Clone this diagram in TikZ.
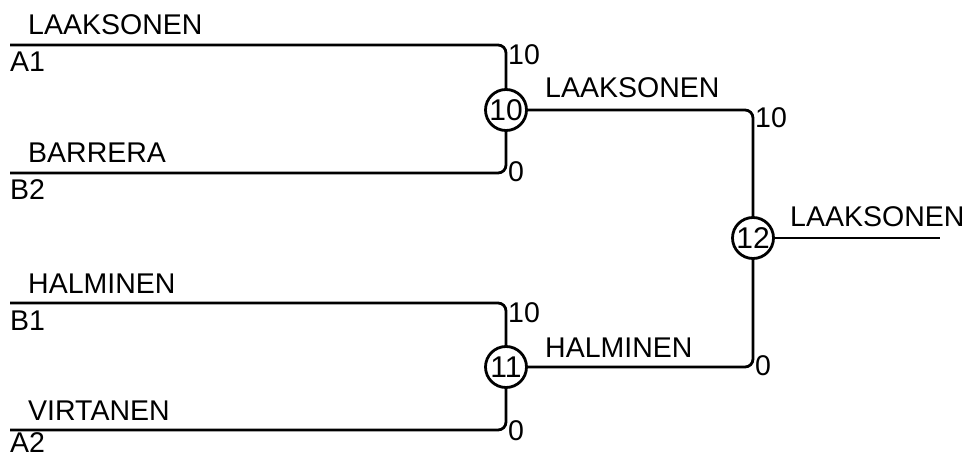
\documentclass[tikz,border=0pt]{standalone}
\usepackage{fontspec}
\setmainfont{Liberation Sans}
\begin{document}
\begin{tikzpicture}[x=1pt,y=-1pt,
  wire/.style={line width=2.8pt,rounded corners=8pt},
  match/.style={circle,draw,line width=2.8pt,minimum size=41pt,inner sep=0pt,font=\fontsize{30}{30}\selectfont},
  lbl/.style={anchor=base west,inner sep=0pt,font=\fontsize{28.5}{30}\selectfont}]
\useasboundingbox (0,0) rectangle (963,457);
\node[match] (c10) at (506,110) {10};
\node[match] (c11) at (506,367) {11};
\node[match] (c12) at (753,238) {12};
\coordinate (a1) at (10,45);
\coordinate (b2) at (10,173);
\coordinate (b1) at (10,303);
\coordinate (a2) at (10,430);
\coordinate (fin) at (940,238);
\draw[wire] (a1) -| (c10.north);
\draw[wire] (b2) -| (c10.south);
\draw[wire] (b1) -| (c11.north);
\draw[wire] (a2) -| (c11.south);
\draw[wire] (c10.east) -| (c12.north);
\draw[wire] (c11.east) -| (c12.south);
\draw[wire] (c12.east) -- (fin);
% player names and seeds
\node[lbl] (n1) at (28,35) {LAAKSONEN};
\node[lbl] (s1) at (10,72) {A1};
\node[lbl] (n2) at (28,163) {BARRERA};
\node[lbl] (s2) at (10,200) {B2};
\node[lbl] (n3) at (28,293) {HALMINEN};
\node[lbl] (s3) at (10,330) {B1};
\node[lbl] (n4) at (28,420) {VIRTANEN};
\node[lbl] (s4) at (10,452) {A2};
% winners
\node[lbl] (w10) at (545,98) {LAAKSONEN};
\node[lbl] (w11) at (545,357) {HALMINEN};
\node[lbl] (w12) at (790,226) {LAAKSONEN};
% scores
\node[lbl] (p1) at (508,65) {10};
\node[lbl] (p2) at (508,182) {0};
\node[lbl] (p3) at (508,322) {10};
\node[lbl] (p4) at (508,440) {0};
\node[lbl] (p5) at (755,128) {10};
\node[lbl] (p6) at (755,375) {0};
\end{tikzpicture}
\end{document}
